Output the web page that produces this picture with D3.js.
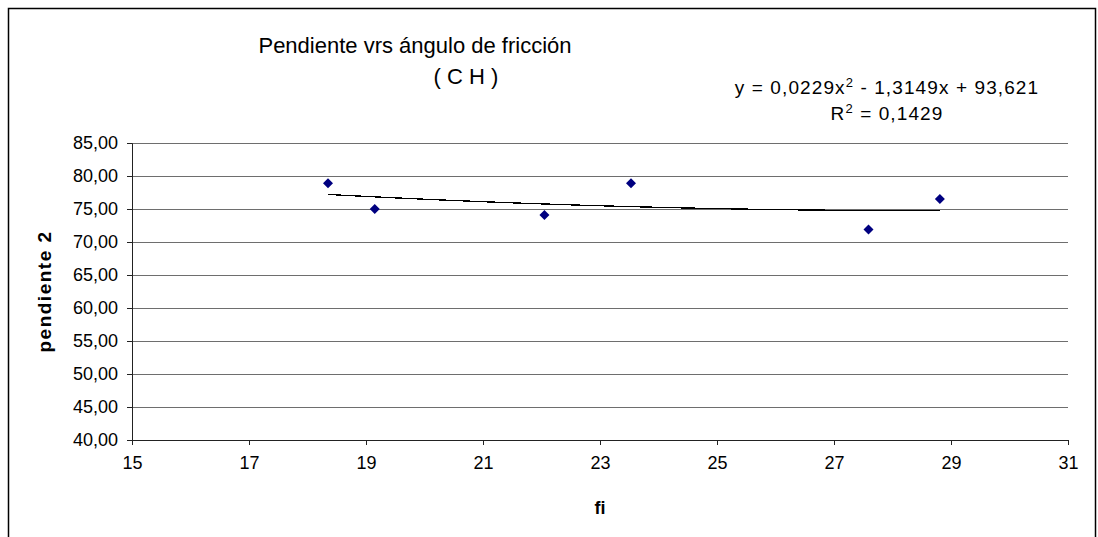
<!DOCTYPE html>
<html>
<head>
<meta charset="utf-8">
<script src="https://cdn.jsdelivr.net/npm/d3@7"></script>
<style>
  body { margin: 0; background: #fff; }
  svg { font-family: "Liberation Sans", Arial, sans-serif; }
</style>
</head>
<body>
<div id="chart"></div>
<script>
// data
const fiValues = [18.35, 19.15, 22.05, 23.53, 27.59, 28.81];
const pendienteValues = [78.9, 75.0, 74.1, 78.9, 71.9, 76.5];
const xTicks = [15, 17, 19, 21, 23, 25, 27, 29, 31];
const yTicks = [40, 45, 50, 55, 60, 65, 70, 75, 80, 85];
// polynomial trendline coefficients (a, b, c) as printed on the chart
const trendCoef = [0.0229, -1.3149, 93.621];

const W = 1098, H = 537;
const margin = {top: 143, right: 30, bottom: 97, left: 132};
const width = 1068 - margin.left;
const height = 440 - margin.top;

const svg = d3.select("#chart").append("svg")
    .attr("width", W)
    .attr("height", H);

// outer frame
svg.append("rect")
    .attr("x", 8.5).attr("y", 8.5)
    .attr("width", 1087).attr("height", 560)
    .attr("fill", "none")
    .attr("stroke", "#000")
    .attr("stroke-width", 1.5);

const g = svg.append("g")
    .attr("transform", `translate(${margin.left},${margin.top})`);

const x = d3.scaleLinear().domain([15, 31]).range([0, width]);
const y = d3.scaleLinear().domain([40, 85]).range([height, 0]);

const fmt = d => d.toFixed(2).replace(".", ",");

// gridlines
g.append("g")
    .selectAll("line")
    .data(yTicks.filter(d => d > 40))
    .join("line")
    .attr("x1", 0).attr("x2", width)
    .attr("y1", d => Math.round(y(d)) + 0.5)
    .attr("y2", d => Math.round(y(d)) + 0.5)
    .attr("stroke", "#6e6e6e")
    .attr("stroke-width", 1);

// axes
const yAxis = g.append("g")
    .call(d3.axisLeft(y).tickValues(yTicks).tickFormat(fmt).tickSize(5).tickPadding(9));
const xAxis = g.append("g")
    .attr("transform", `translate(0,${height})`)
    .call(d3.axisBottom(x).tickValues(xTicks).tickSize(5).tickPadding(11));

[yAxis, xAxis].forEach(a => {
    a.select(".domain").attr("stroke", "#222").attr("stroke-width", 1);
    a.selectAll(".tick line").attr("stroke", "#222");
    a.selectAll("text").attr("fill", "#000").style("font-size", "18px")
        .style("font-family", "'Liberation Sans', Arial, sans-serif");
});

// trendline (Excel draws it with hard pixel steps)
const [a, b, c] = trendCoef;
const xMin = d3.min(fiValues), xMax = d3.max(fiValues);
const trendPts = d3.range(0, 201).map(i => {
    const xv = xMin + (xMax - xMin) * i / 200;
    return [xv, a * xv * xv + b * xv + c];
});
g.append("path")
    .datum(trendPts)
    .attr("fill", "none")
    .attr("stroke", "#000")
    .attr("stroke-width", 1.3)
    .attr("shape-rendering", "crispEdges")
    .attr("d", d3.line().x(d => x(d[0])).y(d => y(d[1])));

// markers
g.selectAll(".pt")
    .data(fiValues.map((d, i) => [d, pendienteValues[i]]))
    .join("path")
    .attr("class", "pt")
    .attr("transform", d => `translate(${x(d[0])},${y(d[1])}) rotate(45)`)
    .attr("d", d3.symbol().type(d3.symbolSquare).size(50))
    .attr("fill", "#000080");

// title
svg.append("text")
    .attr("x", 415).attr("y", 53)
    .attr("text-anchor", "middle")
    .style("font-size", "22px")
    .text("Pendiente vrs ángulo de fricción");
svg.append("text")
    .attr("x", 466).attr("y", 84)
    .attr("text-anchor", "middle")
    .style("font-size", "22px")
    .text("( C H )");

// trendline equation
const eq = svg.append("text")
    .attr("x", 887).attr("y", 94)
    .attr("text-anchor", "middle")
    .style("font-size", "19px")
    .style("letter-spacing", "1.1px");
eq.append("tspan").text("y = 0,0229x");
eq.append("tspan").attr("dy", -7).style("font-size", "13px").text("2");
eq.append("tspan").attr("dy", 7).text(" - 1,3149x + 93,621");

const r2 = svg.append("text")
    .attr("x", 887).attr("y", 120)
    .attr("text-anchor", "middle")
    .style("font-size", "19px")
    .style("letter-spacing", "1.1px");
r2.append("tspan").text("R");
r2.append("tspan").attr("dy", -7).style("font-size", "13px").text("2");
r2.append("tspan").attr("dy", 7).text(" = 0,1429");

// axis titles
svg.append("text")
    .attr("x", 600).attr("y", 514)
    .attr("text-anchor", "middle")
    .style("font-size", "18px")
    .style("font-weight", "bold")
    .text("fi");
svg.append("text")
    .attr("transform", `translate(51,${margin.top + height / 2}) rotate(-90)`)
    .attr("text-anchor", "middle")
    .style("font-size", "19px")
    .style("font-weight", "bold")
    .style("letter-spacing", "1.5px")
    .text("pendiente 2");
</script>
</body>
</html>
